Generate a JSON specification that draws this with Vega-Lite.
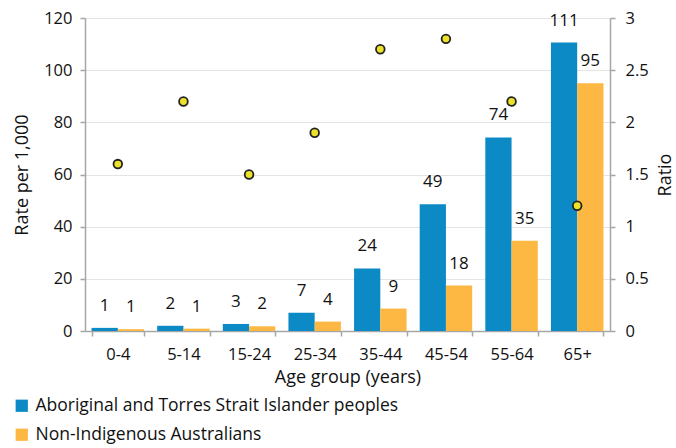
{
  "$schema": "https://vega.github.io/schema/vega-lite/v6.json",
  "width": 525,
  "height": 313,
  "autosize": "none",
  "padding": {"left": 85, "top": 18, "right": 66, "bottom": 117},
  "background": "white",
  "config": {
    "font": "Open Sans",
    "view": {"stroke": null},
    "axis": {"labelFont": "Open Sans", "titleFont": "Open Sans", "labelFontSize": 16.5, "titleFontSize": 18, "titleFontWeight": "normal", "labelColor": "#111", "titleColor": "#111", "domainColor": "#a6a6a6", "tickColor": "#a6a6a6", "domainWidth": 1.5, "tickWidth": 1.5, "gridColor": "#e4e4e4", "gridWidth": 1}
  },
  "datasets": {
    "bars": [
      {"age": "0-4", "group": "Aboriginal and Torres Strait Islander peoples", "rate": 1.2, "label": "1"},
      {"age": "0-4", "group": "Non-Indigenous Australians", "rate": 0.7, "label": "1"},
      {"age": "5-14", "group": "Aboriginal and Torres Strait Islander peoples", "rate": 2.0, "label": "2"},
      {"age": "5-14", "group": "Non-Indigenous Australians", "rate": 0.9, "label": "1"},
      {"age": "15-24", "group": "Aboriginal and Torres Strait Islander peoples", "rate": 2.7, "label": "3"},
      {"age": "15-24", "group": "Non-Indigenous Australians", "rate": 1.8, "label": "2"},
      {"age": "25-34", "group": "Aboriginal and Torres Strait Islander peoples", "rate": 7.0, "label": "7"},
      {"age": "25-34", "group": "Non-Indigenous Australians", "rate": 3.6, "label": "4"},
      {"age": "35-44", "group": "Aboriginal and Torres Strait Islander peoples", "rate": 24.0, "label": "24"},
      {"age": "35-44", "group": "Non-Indigenous Australians", "rate": 8.6, "label": "9"},
      {"age": "45-54", "group": "Aboriginal and Torres Strait Islander peoples", "rate": 48.6, "label": "49"},
      {"age": "45-54", "group": "Non-Indigenous Australians", "rate": 17.4, "label": "18"},
      {"age": "55-64", "group": "Aboriginal and Torres Strait Islander peoples", "rate": 74.2, "label": "74"},
      {"age": "55-64", "group": "Non-Indigenous Australians", "rate": 34.6, "label": "35"},
      {"age": "65+", "group": "Aboriginal and Torres Strait Islander peoples", "rate": 110.6, "label": "111"},
      {"age": "65+", "group": "Non-Indigenous Australians", "rate": 95.0, "label": "95"}
    ],
    "ratio": [
      {"age": "0-4", "ratio": 1.6},
      {"age": "5-14", "ratio": 2.2},
      {"age": "15-24", "ratio": 1.5},
      {"age": "25-34", "ratio": 1.9},
      {"age": "35-44", "ratio": 2.7},
      {"age": "45-54", "ratio": 2.8},
      {"age": "55-64", "ratio": 2.2},
      {"age": "65+", "ratio": 1.2}
    ]
  },
  "encoding": {
    "x": {
      "field": "age", "type": "nominal", "sort": null,
      "scale": {"domain": ["0-4", "5-14", "15-24", "25-34", "35-44", "45-54", "55-64", "65+"], "paddingInner": 0.2, "paddingOuter": 0.1},
      "axis": {"title": "Age group (years)", "labelAngle": 0, "tickBand": "extent", "tickSize": 5, "labelPadding": 10, "titlePadding": 6, "grid": false}
    }
  },
  "layer": [
    {
      "data": {"name": "bars"},
      "layer": [
        {
          "mark": {"type": "bar"},
          "encoding": {
            "xOffset": {"field": "group", "type": "nominal", "sort": null},
            "y": {"field": "rate", "type": "quantitative", "scale": {"domain": [0, 120]},
              "axis": {"title": "Rate per 1,000", "values": [0, 20, 40, 60, 80, 100, 120], "tickSize": 5, "labelPadding": 8, "titlePadding": 12, "grid": true}},
            "color": {"field": "group", "type": "nominal", "sort": null,
              "scale": {"domain": ["Aboriginal and Torres Strait Islander peoples", "Non-Indigenous Australians"], "range": ["#0b8ac5", "#fdb843"]},
              "legend": {"title": null, "orient": "none", "legendX": -72, "legendY": 379, "direction": "vertical", "symbolType": "square", "symbolSize": 150, "symbolStrokeWidth": 0, "labelFont": "Open Sans", "labelFontSize": 17.5, "labelColor": "#111", "labelLimit": 0, "rowPadding": 10, "labelOffset": 5}}
          }
        },
        {
          "mark": {"type": "text", "baseline": "bottom", "dy": -13, "fontSize": 17, "color": "#111"},
          "encoding": {
            "xOffset": {"field": "group", "type": "nominal", "sort": null},
            "y": {"field": "rate", "type": "quantitative"},
            "text": {"field": "label"}
          }
        }
      ]
    },
    {
      "data": {"name": "ratio"},
      "mark": {"type": "point", "filled": true, "fill": "#ece22a", "stroke": "#222", "strokeWidth": 1.8, "size": 75, "opacity": 1},
      "encoding": {
        "y": {"field": "ratio", "type": "quantitative", "scale": {"domain": [0, 3]},
          "axis": {"title": "Ratio", "orient": "right", "format": "~g", "values": [0, 0.5, 1, 1.5, 2, 2.5, 3], "tickSize": 5, "labelPadding": 10, "titlePadding": 8, "titleAngle": 270, "titleBaseline": "top", "grid": false}}
      }
    }
  ],
  "resolve": {"scale": {"y": "independent"}}
}
